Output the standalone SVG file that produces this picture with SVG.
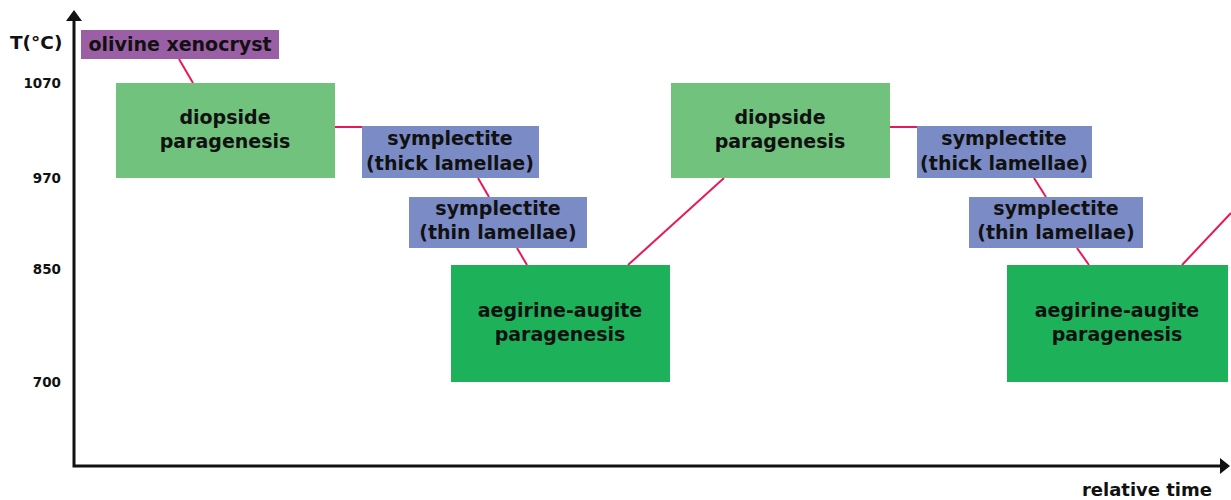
<svg xmlns="http://www.w3.org/2000/svg" width="1231" height="500" viewBox="0 0 1231 500">
<style>
.t{font-family:"DejaVu Sans","Liberation Sans",sans-serif;font-weight:700;fill:#111;text-anchor:middle}
.n{font-size:19px}
.ax{font-family:"DejaVu Sans","Liberation Sans",sans-serif;font-weight:700;fill:#111}
.num{font-size:13.5px;text-anchor:end}
.c{stroke:#e8195a;stroke-width:2;fill:none}
.purple{fill:#9b5fa6}
.lg{fill:#70c27d}
.bl{fill:#7a8bc6}
.dg{fill:#1db15a}
</style>
<rect width="1231" height="500" fill="#fff"/>
<g id="axes" stroke="#111" stroke-width="3" fill="none">
<polyline points="74,18 74,466 1224,466"/>
<polygon points="74,10 66,21 82,21" fill="#111" stroke="none"/>
<polygon points="1230,466 1220,458 1220,474" fill="#111" stroke="none"/>
</g>
<g id="axis-labels">
<text class="ax" x="10" y="49" font-size="18.5">T(°C)</text>
<text class="ax num" x="61" y="88">1070</text>
<text class="ax num" x="61" y="183">970</text>
<text class="ax num" x="61" y="274">850</text>
<text class="ax num" x="61" y="387">700</text>
<text class="ax" x="1212" y="496" font-size="18" text-anchor="end">relative time</text>
</g>
<g id="connectors">
<line class="c" x1="179" y1="59" x2="193" y2="83"/>
<line class="c" x1="335" y1="127" x2="362" y2="127"/>
<line class="c" x1="478" y1="178" x2="489" y2="197"/>
<line class="c" x1="517" y1="248" x2="527" y2="265"/>
<line class="c" x1="628" y1="265" x2="724" y2="178"/>
<line class="c" x1="890" y1="127" x2="917" y2="127"/>
<line class="c" x1="1034" y1="178" x2="1046" y2="197"/>
<line class="c" x1="1077" y1="248" x2="1089" y2="265"/>
<line class="c" x1="1182" y1="265" x2="1231" y2="213"/>
</g>
<g id="olivine">
<rect class="purple" x="81" y="30" width="198" height="29"/>
<text class="t" x="180" y="51" font-size="19">olivine xenocryst</text>
</g>
<g id="diopside1">
<rect class="lg" x="116" y="83" width="219" height="95"/>
<text class="t n" x="225" y="124">diopside</text>
<text class="t n" x="225" y="148">paragenesis</text>
</g>
<g id="thick1">
<rect class="bl" x="362" y="126" width="177" height="52"/>
<text class="t n" x="450" y="145">symplectite</text>
<text class="t n" x="450" y="170">(thick lamellae)</text>
</g>
<g id="thin1">
<rect class="bl" x="409" y="197" width="178" height="51"/>
<text class="t n" x="498" y="215">symplectite</text>
<text class="t n" x="498" y="239">(thin lamellae)</text>
</g>
<g id="aegirine1">
<rect class="dg" x="451" y="265" width="219" height="117"/>
<text class="t n" x="560" y="317">aegirine-augite</text>
<text class="t n" x="560" y="341">paragenesis</text>
</g>
<g id="diopside2">
<rect class="lg" x="671" y="83" width="219" height="95"/>
<text class="t n" x="780" y="124">diopside</text>
<text class="t n" x="780" y="148">paragenesis</text>
</g>
<g id="thick2">
<rect class="bl" x="917" y="126" width="175" height="52"/>
<text class="t n" x="1004" y="145">symplectite</text>
<text class="t n" x="1004" y="170">(thick lamellae)</text>
</g>
<g id="thin2">
<rect class="bl" x="969" y="197" width="174" height="51"/>
<text class="t n" x="1056" y="215">symplectite</text>
<text class="t n" x="1056" y="239">(thin lamellae)</text>
</g>
<g id="aegirine2">
<rect class="dg" x="1007" y="265" width="221" height="117"/>
<text class="t n" x="1117" y="317">aegirine-augite</text>
<text class="t n" x="1117" y="341">paragenesis</text>
</g>
</svg>
